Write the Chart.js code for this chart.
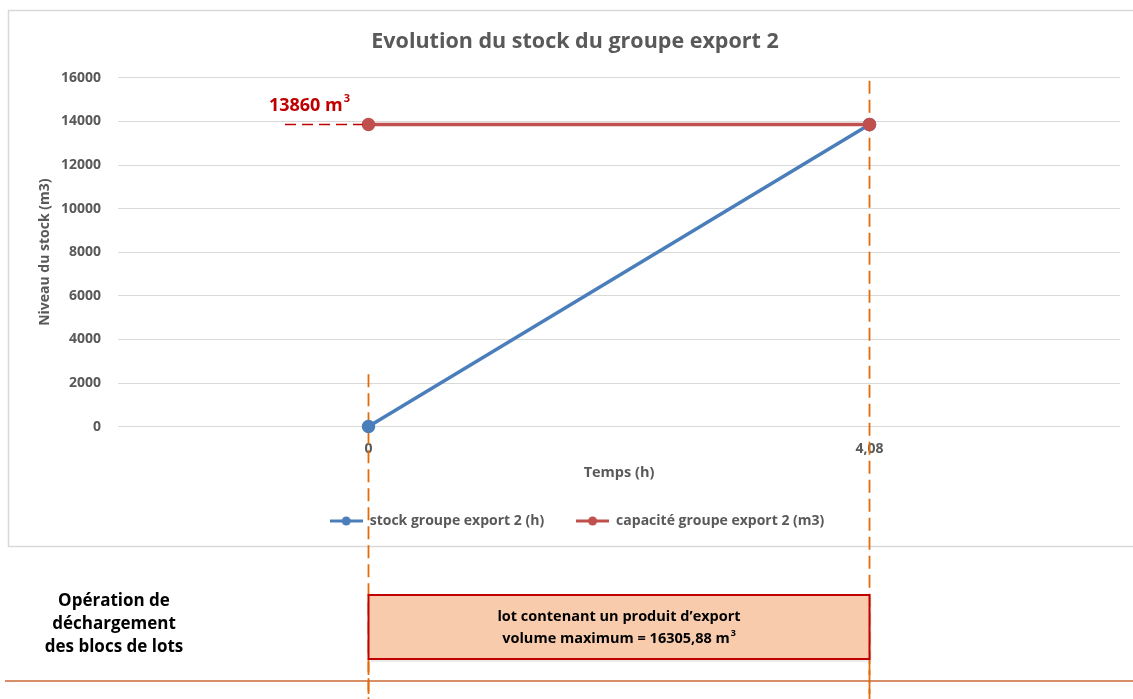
<!DOCTYPE html>
<html lang="fr">
<head>
<meta charset="UTF-8">
<title>Evolution du stock du groupe export 2</title>
<script src="https://cdn.jsdelivr.net/npm/chart.js"></script>
<style>
    body { margin: 0; background: #fff; }
    #wrap { width: 1133px; height: 699px; }
</style>
</head>
<body>
<div id="wrap"><canvas id="stock-chart" width="1133" height="699"></canvas></div>
<script>
// données du graphique
const tempsLabels = ['0', '4,08'];
const stockValues = [0, 13860];
const capaciteValues = [13860, 13860];
const capaciteMax = 13860;
const yTicksMin = 0;
const yTicksMax = 16000;
const yTicksStep = 2000;

const FONT = '"Open Sans", "Noto Sans", sans-serif';
const GREY = '#595959';
const ORANGE = '#e36c0a';
const DARK_RED = '#c00000';

// petit symbole de légende : trait + rond
function legendMarker(color) {
    const c = document.createElement('canvas');
    c.width = 33; c.height = 12;
    const g = c.getContext('2d');
    g.strokeStyle = color; g.lineWidth = 3;
    g.beginPath(); g.moveTo(0, 6); g.lineTo(33, 6); g.stroke();
    g.fillStyle = color;
    g.beginPath(); g.arc(16.5, 6, 4.5, 0, Math.PI * 2); g.fill();
    return c;
}

function drawSupText(ctx, base, sup, xRight, y, size, color) {
    ctx.save();
    ctx.fillStyle = color;
    ctx.textBaseline = 'middle';
    ctx.font = 'bold ' + size + 'px ' + FONT;
    const supSize = Math.round(size * 0.62);
    const wBase = ctx.measureText(base).width;
    ctx.font = 'bold ' + supSize + 'px ' + FONT;
    const wSup = ctx.measureText(sup).width;
    const x0 = xRight - wBase - wSup - 1;
    ctx.font = 'bold ' + size + 'px ' + FONT;
    ctx.textAlign = 'left';
    ctx.fillText(base, x0, y);
    ctx.font = 'bold ' + supSize + 'px ' + FONT;
    ctx.fillText(sup, x0 + wBase + 1, y - size * 0.38);
    ctx.restore();
}

// cadre du graphique + recentrage du titre et de la légende
const framePlugin = {
    id: 'frame',
    afterLayout(chart) {
        if (chart.legend) {
            chart.legend.left += 13;
            chart.legend.right += 13;
        }
        if (chart.titleBlock) {
            chart.titleBlock.left += 11;
            chart.titleBlock.right += 11;
        }
    },
    beforeDraw(chart) {
        const ctx = chart.ctx;
        ctx.save();
        ctx.fillStyle = '#fff';
        ctx.fillRect(0, 0, chart.width, chart.height);
        ctx.strokeStyle = '#d9d9d9';
        ctx.lineWidth = 1.5;
        ctx.strokeRect(8.5, 10.5, 1140, 536);
        ctx.restore();
    }
};

// repères verticaux orange (sous les courbes)
const markersPlugin = {
    id: 'markers',
    beforeDatasetsDraw(chart) {
        const ctx = chart.ctx;
        const x0 = chart.scales.x.getPixelForValue(0);
        const x1 = chart.scales.x.getPixelForValue(1);
        ctx.save();
        ctx.strokeStyle = ORANGE;
        ctx.lineWidth = 1.8;
        ctx.setLineDash([13, 6]);
        ctx.beginPath();
        ctx.moveTo(x0, chart.scales.y.getPixelForValue(2400));
        ctx.lineTo(x0, chart.height);
        ctx.moveTo(x1, chart.chartArea.top + 3);
        ctx.lineTo(x1, chart.height);
        ctx.stroke();
        ctx.restore();
    }
};

// annotations : capacité, bloc de déchargement
const annotationsPlugin = {
    id: 'annotations',
    afterDraw(chart) {
        const ctx = chart.ctx;
        const x = chart.scales.x;
        const y = chart.scales.y;
        const x0 = x.getPixelForValue(0);
        const x1 = x.getPixelForValue(1);
        const yCap = y.getPixelForValue(capaciteMax);

        ctx.save();
        // tirets rouges vers la valeur de capacité
        ctx.strokeStyle = DARK_RED;
        ctx.lineWidth = 1.5;
        ctx.setLineDash([11, 6]);
        ctx.beginPath();
        ctx.moveTo(285, yCap);
        ctx.lineTo(x0 - 6, yCap);
        ctx.stroke();
        ctx.setLineDash([]);
        drawSupText(ctx, '13860 m', '3', 350, yCap - 19, 18, DARK_RED);

        // bloc de lots
        const boxTop = 595, boxBottom = 659;
        ctx.fillStyle = 'rgba(0,0,0,0.08)';
        ctx.fillRect(x0 + 2, boxTop + 3, x1 - x0, boxBottom - boxTop);
        ctx.fillStyle = '#f8cbad';
        ctx.fillRect(x0, boxTop, x1 - x0, boxBottom - boxTop);
        ctx.strokeStyle = DARK_RED;
        ctx.lineWidth = 2;
        ctx.strokeRect(x0, boxTop, x1 - x0, boxBottom - boxTop);

        const cx = (x0 + x1) / 2;
        ctx.fillStyle = '#000';
        ctx.textAlign = 'center';
        ctx.textBaseline = 'middle';
        ctx.font = 'bold 14.5px ' + FONT;
        ctx.fillText('lot contenant un produit d\u2019export', cx, 617);
        const line2 = 'volume maximum = 16305,88 m';
        const w2 = ctx.measureText(line2).width;
        ctx.textAlign = 'left';
        ctx.fillText(line2, cx - w2 / 2 - 3, 639);
        ctx.font = 'bold 9px ' + FONT;
        ctx.fillText('3', cx + w2 / 2 - 2, 633);

        // libellé de l'opération
        ctx.font = 'bold 17px ' + FONT;
        ctx.textAlign = 'center';
        ctx.fillText('Opération de', 114, 601);
        ctx.fillText('déchargement', 114, 624);
        ctx.fillText('des blocs de lots', 114, 647);

        // ligne de séparation
        ctx.strokeStyle = '#c96a34';
        ctx.lineWidth = 1.5;
        ctx.beginPath();
        ctx.moveTo(5, 681);
        ctx.lineTo(chart.width, 681);
        ctx.stroke();

        // les repères orange reprennent sous le bloc
        ctx.strokeStyle = ORANGE;
        ctx.lineWidth = 1.8;
        ctx.setLineDash([13, 6]);
        ctx.beginPath();
        ctx.moveTo(x0, boxBottom + 3);
        ctx.lineTo(x0, chart.height);
        ctx.moveTo(x1, boxBottom + 3);
        ctx.lineTo(x1, chart.height);
        ctx.stroke();
        ctx.restore();
    }
};

const ctx = document.getElementById('stock-chart').getContext('2d');
new Chart(ctx, {
    type: 'line',
    data: {
        labels: tempsLabels,
        datasets: [{
            label: 'stock groupe export 2 (h)',
            data: stockValues,
            order: 2,
            clip: false,
            borderColor: '#4a7ebb',
            backgroundColor: '#4a7ebb',
            borderWidth: 3.5,
            pointRadius: 5,
            pointHoverRadius: 5,
            fill: false,
            tension: 0
        }, {
            label: 'capacité groupe export 2 (m3)',
            data: capaciteValues,
            order: 1,
            clip: false,
            borderColor: '#c0504d',
            backgroundColor: '#c0504d',
            borderWidth: 3.5,
            pointRadius: 5,
            pointHoverRadius: 5,
            fill: false,
            tension: 0
        }]
    },
    options: {
        responsive: false,
        animation: false,
        layout: { padding: { left: 8, right: 13, top: 20, bottom: 161 } },
        plugins: {
            title: {
                display: true,
                text: 'Evolution du stock du groupe export 2',
                color: GREY,
                font: { family: FONT, size: 21.5, weight: 'bold' },
                padding: { top: 9, bottom: 23 }
            },
            legend: {
                position: 'bottom',
                labels: {
                    color: GREY,
                    font: { family: FONT, size: 14, weight: 'bold' },
                    usePointStyle: true,
                    pointStyleWidth: 33,
                    boxHeight: 12,
                    padding: 32,
                    generateLabels(chart) {
                        const items = Chart.defaults.plugins.legend.labels.generateLabels(chart);
                        items.sort((a, b) => a.datasetIndex - b.datasetIndex);
                        items.forEach(it => {
                            it.pointStyle = legendMarker(chart.data.datasets[it.datasetIndex].borderColor);
                        });
                        return items;
                    }
                }
            },
            tooltip: { enabled: false }
        },
        scales: {
            x: {
                type: 'category',
                offset: true,
                afterFit(scale) { scale.height = 55.4; },
                grid: { display: false, drawTicks: false },
                border: { display: false },
                ticks: {
                    color: GREY,
                    font: { family: FONT, size: 14, weight: 'bold' },
                    padding: 14
                },
                title: {
                    display: true,
                    text: 'Temps (h)',
                    color: GREY,
                    font: { family: FONT, size: 14.5, weight: 'bold' },
                    padding: { top: 4, bottom: 0 }
                }
            },
            y: {
                min: yTicksMin,
                max: yTicksMax,
                afterFit(scale) { scale.width = 110; },
                grid: { color: '#d9d9d9', lineWidth: 1, drawTicks: false },
                border: { display: false },
                ticks: {
                    stepSize: yTicksStep,
                    color: GREY,
                    padding: 17,
                    font: { family: FONT, size: 14, weight: 'bold' },
                    callback: (v) => String(v)
                },
                title: {
                    display: true,
                    text: 'Niveau du stock (m3)',
                    color: GREY,
                    font: { family: FONT, size: 14, weight: 'bold' },
                    padding: { top: 29, bottom: 0 }
                }
            }
        }
    },
    plugins: [framePlugin, markersPlugin, annotationsPlugin]
});
</script>
</body>
</html>
